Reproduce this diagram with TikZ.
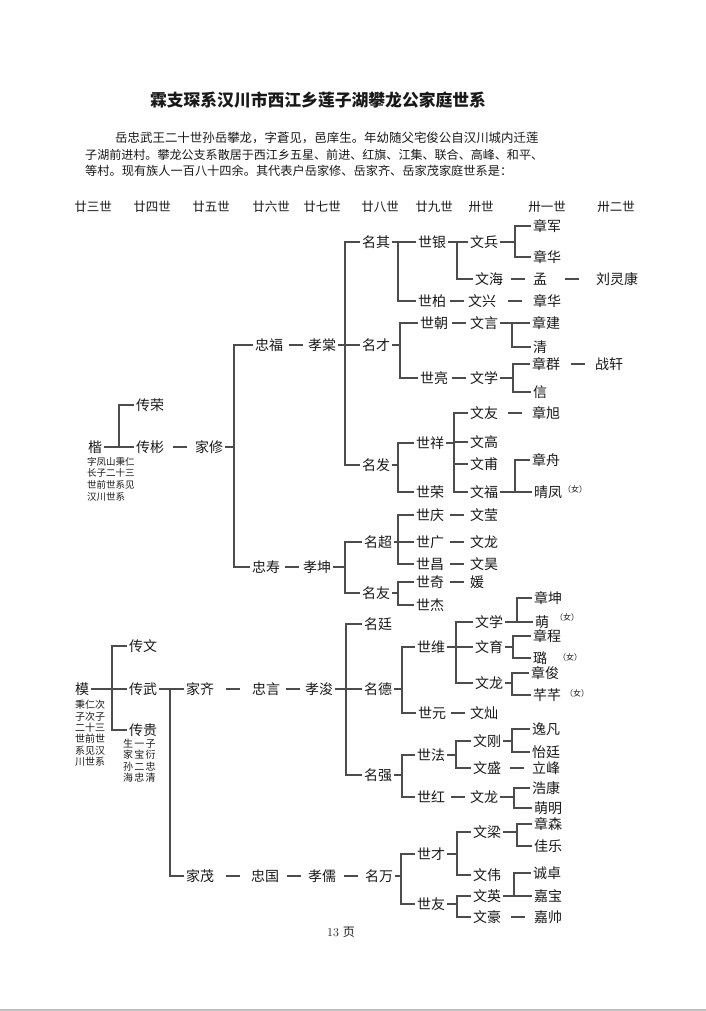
\documentclass[tikz,border=0pt]{standalone}
\usepackage{fontspec}
\newfontfamily\cjk{Noto Sans CJK SC}
\usetikzlibrary{calc}

% bracket from a parent to its children, vertical bar at x=#2
\newcommand{\fork}[3]{%
  \coordinate (fk) at (#2,0);
  \draw[link] (#1.east) -- (fk |- #1.east);
  \foreach \ch in {#3} {\draw[link] (fk |- #1.east) -- (fk |- \ch.west) -- (\ch.west);}
}
% short dash between two names
\newcommand{\pair}[2]{\draw[link] ($(#1.east)!.5!(#2.west)$) ++(-7,0) -- ++(14,0);}

\begin{document}
\begin{tikzpicture}[x=1pt, y=-1pt,
  nm/.style={font=\cjk\fontsize{14}{14}\selectfont, text=black!90, inner sep=2pt},
  gen/.style={font=\cjk\fontsize{12.5}{12.5}\selectfont, text=black!90},
  para/.style={anchor=west, inner sep=0pt, text=black!90},
  note/.style={anchor=north west, align=left, inner sep=0pt, text=black!90},
  fem/.style={font=\cjk\fontsize{8}{8}\selectfont, text=black!90, inner sep=0pt},
  link/.style={draw=black!70, line width=1.2pt}]
\useasboundingbox (0,0) rectangle (706,1011);
\fill[black!25] (0,1009) rectangle (706,1011);

\node[font=\cjk\bfseries\fontsize{16.8}{16.8}\selectfont, text=black!90] (title) at (318,100) {霖支琛系汉川市西江乡莲子湖攀龙公家庭世系};
\node[para, font=\cjk\fontsize{12.45}{12.45}\selectfont] (p1) at (115,138) {岳忠武王二十世孙岳攀龙，字蒼见，邑庠生。年幼随父宅俊公自汉川城内迁莲};
\node[para, font=\cjk\fontsize{12.05}{12.05}\selectfont] (p2) at (85,155) {子湖前进村。攀龙公支系散居于西江乡五星、前进、红旗、江集、联合、高峰、和平、};
\node[para, font=\cjk\fontsize{12.2}{12.2}\selectfont] (p3) at (85,171) {等村。现有族人一百八十四余。其代表户岳家修、岳家齐、岳家茂家庭世系是：};

\foreach \x/\t in {93/廿三世, 152/廿四世, 211/廿五世, 271/廿六世, 322/廿七世, 380/廿八世, 434/廿九世, 481/卅世, 547/卅一世, 616/卅二世}
  \node[gen] (g\x) at (\x,207) {\t};

% 家修 branch
\node[nm] (kai) at (95,447) {楷};
\node[note, font=\cjk\fontsize{9.5}{11.7}\selectfont] (kainote) at (87,457) {字凤山秉仁\\长子二十三\\世前世系见\\汉川世系};
\node[nm] (chuanrong) at (150,405) {传荣};
\node[nm] (chuanbin) at (150,447) {传彬};
\node[nm] (jiaxiu) at (209,447) {家修};
\node[nm] (zhongfu) at (269,345) {忠福};
\node[nm] (xiaotang) at (322,345) {孝棠};
\node[nm] (zhongshou) at (266,567) {忠寿};
\node[nm] (xiaokun) at (317,567) {孝坤};

\node[nm] (mingqi) at (376,242) {名其};
\node[nm] (mingcai) at (376,345) {名才};
\node[nm] (mingfa) at (376,465) {名发};
\node[nm] (shiyin) at (432,242) {世银};
\node[nm] (shibai) at (432,301) {世柏};
\node[nm] (wenbing) at (484,242) {文兵};
\node[nm] (wenhai) at (489,279) {文海};
\node[nm] (zhangjun) at (547,226) {章军};
\node[nm] (zhanghua) at (547,257) {章华};
\node[nm] (meng) at (540,279) {孟};
\node[nm] (liulingkang) at (617,279) {刘灵康};
\node[nm] (wenxing) at (482,301) {文兴};
\node[nm] (zhanghuab) at (547,301) {章华};
\node[nm] (shichao) at (434,323) {世朝};
\node[nm] (wenyan) at (484,323) {文言};
\node[nm] (zhangjian) at (546,323) {章建};
\node[nm] (qing) at (540,347) {清};
\node[nm] (shiliang) at (434,378) {世亮};
\node[nm] (wenxue) at (484,378) {文学};
\node[nm] (zhangqun) at (546,364) {章群};
\node[nm] (zhanxuan) at (609,364) {战轩};
\node[nm] (xin) at (540,392) {信};
\node[nm] (shixiang) at (430,443) {世祥};
\node[nm] (shirong) at (430,492) {世荣};
\node[nm] (wenyou) at (484,413) {文友};
\node[nm] (zhangxu) at (546,413) {章旭};
\node[nm] (wengao) at (484,442) {文高};
\node[nm] (wenpu) at (484,464) {文甫};
\node[nm] (wenfu) at (484,492) {文福};
\node[nm] (zhangzhou) at (546,460) {章舟};
\node[nm] (qingfeng) at (548,492) {晴凤};
\node[fem] (fem1) at (575,489) {（女）};

\node[nm] (mingchao) at (378,542) {名超};
\node[nm] (mingyou) at (376,593) {名友};
\node[nm] (shiqing) at (430,515) {世庆};
\node[nm] (wenying) at (484,515) {文莹};
\node[nm] (shiguang) at (430,542) {世广};
\node[nm] (wenlong) at (484,542) {文龙};
\node[nm] (shichang) at (430,564) {世昌};
\node[nm] (wenhao) at (484,564) {文昊};
\node[nm] (shiqi) at (430,582) {世奇};
\node[nm] (yuan) at (477,582) {媛};
\node[nm] (shijie) at (430,605) {世杰};

\fork{kai}{119}{chuanrong,chuanbin}
\pair{chuanbin}{jiaxiu}
\fork{jiaxiu}{234}{zhongfu,zhongshou}
\pair{zhongfu}{xiaotang}
\fork{xiaotang}{345}{mingqi,mingcai,mingfa}
\fork{mingqi}{398}{shiyin,shibai}
\fork{shiyin}{457}{wenbing,wenhai}
\fork{wenbing}{515}{zhangjun,zhanghua}
\pair{wenhai}{meng}
\pair{meng}{liulingkang}
\pair{shibai}{wenxing}
\pair{wenxing}{zhanghuab}
\fork{mingcai}{400}{shichao,shiliang}
\pair{shichao}{wenyan}
\fork{wenyan}{512}{zhangjian,qing}
\pair{shiliang}{wenxue}
\fork{wenxue}{513}{zhangqun,xin}
\pair{zhangqun}{zhanxuan}
\fork{mingfa}{398}{shixiang,shirong}
\fork{shixiang}{454}{wenyou,wengao,wenpu,wenfu}
\pair{wenyou}{zhangxu}
\fork{wenfu}{515}{zhangzhou,qingfeng}
\pair{zhongshou}{xiaokun}
\fork{xiaokun}{345}{mingchao,mingyou}
\fork{mingchao}{398}{shiqing,shiguang,shichang}
\pair{shiqing}{wenying}
\pair{shiguang}{wenlong}
\pair{shichang}{wenhao}
\fork{mingyou}{398}{shiqi,shijie}
\pair{shiqi}{yuan}

% 家齐 and 家茂 branches
\node[nm] (mo) at (82,689) {模};
\node[note, font=\cjk\fontsize{10}{11.4}\selectfont] (monote) at (75,700) {秉仁次\\子次子\\二十三\\世前世\\系见汉\\川世系};
\node[nm] (chuanwen) at (143,646) {传文};
\node[nm] (chuanwu) at (143,689) {传武};
\node[nm] (chuangui) at (143,730) {传贵};
\node[note, font=\cjk\fontsize{10}{11.3}\selectfont\addfontfeatures{LetterSpace=12}] (guinote) at (123,739) {生一子\\家宝衍\\孙二忠\\海忠清};
\node[nm] (jiaqi) at (200,689) {家齐};
\node[nm] (zhongyan) at (266,689) {忠言};
\node[nm] (xiaojun) at (319,689) {孝浚};
\node[nm] (jiamao) at (200,876) {家茂};
\node[nm] (zhongguo) at (265,876) {忠国};
\node[nm] (xiaoru) at (322,876) {孝儒};

\node[nm] (mingting) at (378,624) {名廷};
\node[nm] (mingde) at (378,689) {名德};
\node[nm] (mingqiang) at (378,775) {名强};
\node[nm] (shiwei) at (431,647) {世维};
\node[nm] (shiyuan) at (432,713) {世元};
\node[nm] (wenxueb) at (489,622) {文学};
\node[nm] (wenyu) at (489,647) {文育};
\node[nm] (wenlongb) at (489,683) {文龙};
\node[nm] (zhangkun) at (548,598) {章坤};
\node[nm] (mengb) at (542,622) {萌};
\node[fem] (fem2) at (567,617) {（女）};
\node[nm] (zhangcheng) at (547,636) {章程};
\node[nm] (lu) at (540,658) {璐};
\node[fem] (fem3) at (570,657) {（女）};
\node[nm] (zhangjunb) at (545,673) {章俊};
\node[nm] (qianqian) at (547,695) {芊芊};
\node[fem] (fem4) at (577,693) {（女）};
\node[nm] (wencan) at (484,713) {文灿};
\node[nm] (shifa) at (431,755) {世法};
\node[nm] (shihong) at (431,797) {世红};
\node[nm] (wengang) at (487,741) {文刚};
\node[nm] (wensheng) at (487,768) {文盛};
\node[nm] (yifan) at (546,729) {逸凡};
\node[nm] (yiting) at (546,752) {怡廷};
\node[nm] (lifeng) at (546,768) {立峰};
\node[nm] (wenlongc) at (484,797) {文龙};
\node[nm] (haokang) at (546,788) {浩康};
\node[nm] (mengming) at (548,808) {萌明};

\node[nm] (mingwan) at (379,876) {名万};
\node[nm] (shicai) at (431,854) {世才};
\node[nm] (shiyou) at (431,904) {世友};
\node[nm] (wenliang) at (487,832) {文梁};
\node[nm] (wenwei) at (487,875) {文伟};
\node[nm] (zhangsen) at (548,824) {章森};
\node[nm] (jiale) at (548,846) {佳乐};
\node[nm] (wenyingb) at (487,896) {文英};
\node[nm] (wenhaob) at (487,917) {文豪};
\node[nm] (chengzhuo) at (547,873) {诚卓};
\node[nm] (jiabao) at (548,896) {嘉宝};
\node[nm] (jiashuai) at (548,917) {嘉帅};

\fork{mo}{112}{chuanwen,chuanwu,chuangui}
\fork{chuanwu}{170}{jiaqi,jiamao}
\pair{jiaqi}{zhongyan}
\pair{zhongyan}{xiaojun}
\fork{xiaojun}{346}{mingting,mingde,mingqiang}
\fork{mingde}{402}{shiwei,shiyuan}
\fork{shiwei}{456}{wenxueb,wenyu,wenlongb}
\fork{wenxueb}{517}{zhangkun,mengb}
\fork{wenyu}{513}{zhangcheng,lu}
\fork{wenlongb}{512}{zhangjunb,qianqian}
\pair{shiyuan}{wencan}
\fork{mingqiang}{402}{shifa,shihong}
\fork{shifa}{456}{wengang,wensheng}
\fork{wengang}{512}{yifan,yiting}
\pair{wensheng}{lifeng}
\pair{shihong}{wenlongc}
\fork{wenlongc}{514}{haokang,mengming}
\pair{jiamao}{zhongguo}
\pair{zhongguo}{xiaoru}
\pair{xiaoru}{mingwan}
\fork{mingwan}{401}{shicai,shiyou}
\fork{shicai}{457}{wenliang,wenwei}
\fork{wenliang}{517}{zhangsen,jiale}
\fork{shiyou}{457}{wenyingb,wenhaob}
\fork{wenyingb}{514}{chengzhuo,jiabao}
\pair{wenhaob}{jiashuai}

\node[text=black!90] (page) at (341,932) {\fontsize{12}{12}\selectfont 13 {\cjk 页}};
\end{tikzpicture}
\end{document}
